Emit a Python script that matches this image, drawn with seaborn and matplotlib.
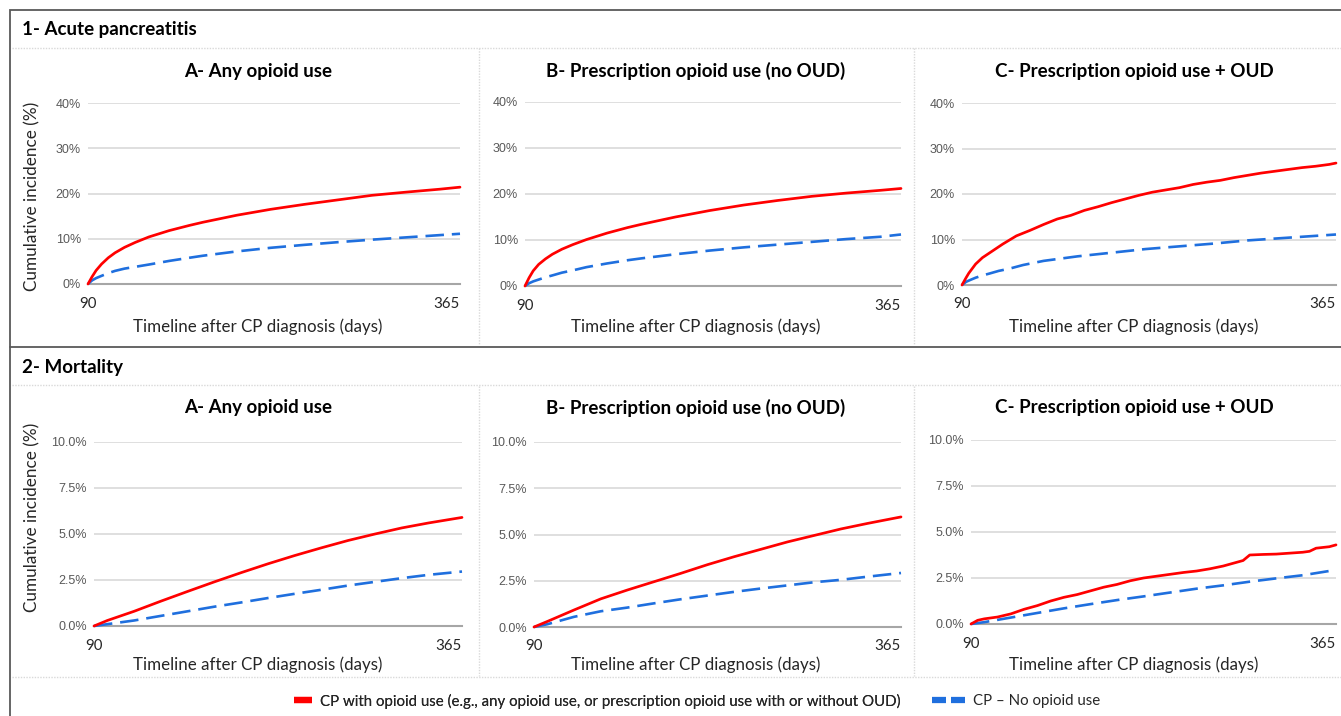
import matplotlib
matplotlib.use("Agg")
import matplotlib.pyplot as plt
import matplotlib.patches as mpatches
from matplotlib.lines import Line2D
import seaborn as sns
import pandas as pd

# ---------------- data ----------------
days_ap = [90, 93, 96, 100, 105, 110, 117, 125, 135, 150, 165, 175, 200, 225, 250, 275, 300, 325, 350, 365]
ap_any_opioid = [0, 1.6, 3.0, 4.4, 5.8, 6.9, 8.1, 9.2, 10.4, 11.8, 12.95, 13.65, 15.2, 16.5, 17.6, 18.6, 19.6, 20.3, 20.95, 21.4]
ap_any_none = [0, 0.8, 1.3, 1.8, 2.4, 2.9, 3.4, 3.8, 4.3, 5.1, 5.8, 6.25, 7.2, 8.0, 8.65, 9.25, 9.8, 10.3, 10.8, 11.1]
ap_rx_opioid = [0, 1.8, 3.3, 4.7, 5.9, 6.9, 8.0, 9.0, 10.1, 11.5, 12.7, 13.4, 15.0, 16.4, 17.6, 18.6, 19.5, 20.2, 20.8, 21.2]
ap_rx_none = [0, 0.6, 1.0, 1.4, 1.9, 2.3, 2.9, 3.4, 4.1, 4.9, 5.6, 6.0, 6.9, 7.7, 8.4, 9.0, 9.6, 10.2, 10.7, 11.2]
ap_oud_none = [0, 0.7, 1.1, 1.6, 2.1, 2.5, 3.1, 3.6, 4.4, 5.3, 5.9, 6.3, 7.1, 7.9, 8.5, 9.1, 9.8, 10.3, 10.8, 11.1]

days_ap_oud = [90, 93, 95, 100, 105, 110, 115, 120, 130, 140, 150, 160, 170, 180, 190, 200, 210,
               220, 230, 240, 250, 260, 270, 280, 290, 300, 310, 320, 330, 340, 350, 360, 365]
ap_oud_opioid = [0, 1.6, 2.6, 4.6, 6.0, 7.0, 8.0, 9.0, 10.8, 12.0, 13.3, 14.5, 15.3, 16.4, 17.2, 18.1, 18.9,
                 19.7, 20.4, 20.9, 21.4, 22.1, 22.6, 23.0, 23.6, 24.1, 24.6, 25.0, 25.4, 25.8, 26.1, 26.5, 26.8]

days_mort = [90, 100, 120, 140, 160, 180, 200, 220, 240, 260, 280, 300, 320, 340, 365]
mort_any_opioid = [0, 0.3, 0.8, 1.35, 1.88, 2.4, 2.9, 3.38, 3.83, 4.25, 4.65, 5.0, 5.33, 5.6, 5.9]
mort_any_none = [0, 0.1, 0.3, 0.55, 0.8, 1.05, 1.28, 1.52, 1.75, 1.97, 2.2, 2.4, 2.6, 2.78, 2.96]
mort_rx_opioid = [0, 0.3, 0.92, 1.52, 2.0, 2.45, 2.9, 3.37, 3.8, 4.2, 4.6, 4.95, 5.3, 5.6, 5.95]
mort_rx_none = [0, 0.15, 0.55, 0.85, 1.05, 1.28, 1.5, 1.7, 1.9, 2.08, 2.25, 2.42, 2.55, 2.72, 2.92]
mort_oud_none = [0, 0.1, 0.35, 0.6, 0.85, 1.08, 1.3, 1.5, 1.71, 1.92, 2.1, 2.3, 2.48, 2.65, 2.94]

days_mort_oud = [90, 95, 100, 110, 120, 130, 140, 150, 160, 170, 180, 190, 200, 210, 220, 230,
                 240, 250, 260, 270, 280, 290, 295, 300, 310, 320, 330, 340, 345, 350, 360, 365]
mort_oud_opioid = [0, 0.2, 0.28, 0.38, 0.55, 0.8, 1.0, 1.25, 1.45, 1.6, 1.8, 2.0, 2.15, 2.35, 2.5, 2.6,
                   2.7, 2.8, 2.88, 3.0, 3.15, 3.35, 3.45, 3.75, 3.78, 3.8, 3.85, 3.9, 3.95, 4.12, 4.2, 4.3]

section_titles = ["1- Acute pancreatitis", "2- Mortality"]
panel_titles = ["A- Any opioid use", "B- Prescription opioid use (no OUD)", "C- Prescription opioid use + OUD"]
x_ticks = [90, 365]
ap_yticks = [0, 10, 20, 30, 40]
ap_yticklabels = ["0%", "10%", "20%", "30%", "40%"]
mort_yticks = [0, 2.5, 5.0, 7.5, 10.0]
mort_yticklabels = ["0.0%", "2.5%", "5.0%", "7.5%", "10.0%"]
x_label = "Timeline after CP diagnosis (days)"
y_label = "Cumulative incidence (%)"
legend_labels = ["CP with opioid use (e.g., any opioid use, or prescription opioid use with or without OUD)",
                 "CP \u2013 No opioid use"]

# ---------------- styling ----------------
sns.set_theme(style="white")
plt.rcParams["font.family"] = ["Lato", "DejaVu Sans"]

W, H = 1341, 716
RED = "#FF0000"
BLUE = "#1F6FDE"
GRID = "#D9D9D9"
TEXT = "#262626"
TICK = "#595959"
DASH = (0, (7, 3))

fig = plt.figure(figsize=(W / 100, H / 100), dpi=100)
fig.patch.set_facecolor("white")


def fx(px):
    return px / W


def fy(py):
    return 1 - py / H


def px_rect(x0, y0, x1, y1):
    return [x0 / W, 1 - y1 / H, (x1 - x0) / W, (y1 - y0) / H]


panels = [
    # (rect, xs_opioid, ys_opioid, xs_none, ys_none, yticks, yticklabels)
    ((88, 103, 460, 284), days_ap, ap_any_opioid, days_ap, ap_any_none, ap_yticks, ap_yticklabels),
    ((525, 102, 901, 286), days_ap, ap_rx_opioid, days_ap, ap_rx_none, ap_yticks, ap_yticklabels),
    ((962, 103, 1336, 285), days_ap_oud, ap_oud_opioid, days_ap, ap_oud_none, ap_yticks, ap_yticklabels),
    ((94, 442, 462, 626), days_mort, mort_any_opioid, days_mort, mort_any_none, mort_yticks, mort_yticklabels),
    ((534, 442, 901, 627), days_mort, mort_rx_opioid, days_mort, mort_rx_none, mort_yticks, mort_yticklabels),
    ((971, 440, 1336, 624), days_mort_oud, mort_oud_opioid, days_mort, mort_oud_none, mort_yticks, mort_yticklabels),
]

for rect, xo, yo, xn, yn, yt, ytl in panels:
    ax = fig.add_axes(px_rect(*rect))
    df_o = pd.DataFrame({"day": xo, "value": yo})
    df_n = pd.DataFrame({"day": xn, "value": yn})
    sns.lineplot(data=df_n, x="day", y="value", ax=ax, color=BLUE, linewidth=1.9,
                 linestyle=DASH, estimator=None, sort=False, clip_on=False, zorder=3)
    sns.lineplot(data=df_o, x="day", y="value", ax=ax, color=RED, linewidth=1.95,
                 estimator=None, sort=False, clip_on=False, zorder=4,
                 solid_joinstyle="round")
    ax.set_xlim(90, 365)
    ax.set_ylim(yt[0], yt[-1])
    ax.set_xlabel("")
    ax.set_ylabel("")
    ax.set_yticks(yt)
    ax.set_yticklabels(ytl, fontfamily="Liberation Sans", fontsize=9, color=TICK)
    ax.set_xticks(x_ticks)
    ax.set_xticklabels([str(v) for v in x_ticks], fontsize=10.8, color=TEXT)
    xtl = ax.get_xticklabels()
    xtl[0].set_horizontalalignment("center")
    xtl[1].set_horizontalalignment("right")
    ax.tick_params(axis="both", length=0)
    ax.tick_params(axis="y", pad=5)
    ax.tick_params(axis="x", pad=9)
    ax.yaxis.grid(True, color=GRID, linewidth=1.2)
    ax.xaxis.grid(False)
    for side in ["top", "right", "left"]:
        ax.spines[side].set_visible(False)
    ax.spines["bottom"].set_color("#A6A6A6")
    ax.spines["bottom"].set_linewidth(1.5)
    ax.set_facecolor("none")

# ---------------- text ----------------
title_cx = [258, 696, 1134]
for sec, (hy, ty, xy, ly) in enumerate([(30, 71, 327, 196), (367, 408, 665, 517)]):
    fig.text(fx(22), fy(hy), section_titles[sec], fontsize=13.5, fontweight="bold",
             color="black", ha="left", va="center")
    for cx, t in zip(title_cx, panel_titles):
        fig.text(fx(cx), fy(ty), t, fontsize=13.5, fontweight="bold", color="black",
                 ha="center", va="center")
        fig.text(fx(cx), fy(xy), x_label, fontsize=12.2, color=TEXT, ha="center", va="center")
    fig.text(fx(32), fy(ly), y_label, fontsize=12.3, color=TEXT, ha="center", va="center",
             rotation=90)

# ---------------- frame ----------------
fig.add_artist(mpatches.Rectangle((fx(10), fy(725)), fx(1345) - fx(10), fy(9.5) - fy(725),
                                  transform=fig.transFigure, fill=False,
                                  edgecolor="#595959", linewidth=1.3))
fig.add_artist(Line2D([fx(10), fx(1341)], [fy(346.5), fy(346.5)], transform=fig.transFigure,
                      color="#595959", linewidth=1.3))
for yline in (47.5, 385, 676.5):
    fig.add_artist(Line2D([fx(12), fx(1341)], [fy(yline), fy(yline)], transform=fig.transFigure,
                          color=GRID, linewidth=1.0, linestyle=(0, (1, 1))))
for xline in (478.5, 914):
    for y0, y1 in ((48, 345), (385.5, 676)):
        fig.add_artist(Line2D([fx(xline), fx(xline)], [fy(y0), fy(y1)], transform=fig.transFigure,
                              color=GRID, linewidth=1.0, linestyle=(0, (1, 1))))

# ---------------- legend ----------------
red_handle = Line2D([], [], color=RED, linewidth=4.5, solid_capstyle="butt")
blue_handle = Line2D([], [], color=BLUE, linewidth=4.5, linestyle=(0, (2.24, 0.8)),
                     dash_capstyle="butt")
leg1 = fig.legend([red_handle], [legend_labels[0]], loc="center left",
                  bbox_to_anchor=(fx(280), fy(701)), frameon=False, fontsize=10.8,
                  handlelength=1.2, handletextpad=0.6, labelcolor=TEXT)
fig.add_artist(leg1)
fig.legend([blue_handle], [legend_labels[1]], loc="center left",
           bbox_to_anchor=(fx(918), fy(701)), frameon=False, fontsize=10.8,
           handlelength=2.25, handletextpad=0.5, labelcolor=TEXT)

fig.savefig("out.png", dpi=100, facecolor="white")
